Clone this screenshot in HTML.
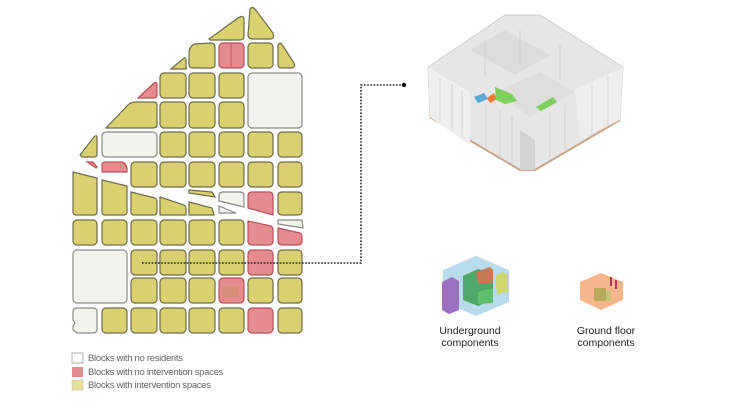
<!DOCTYPE html>
<html><head><meta charset="utf-8"><style>
html,body{margin:0;padding:0;background:#fff;width:730px;height:401px;overflow:hidden}
svg{display:block}
text{font-family:"Liberation Sans",sans-serif}
</style></head><body>
<svg width="730" height="401" viewBox="0 0 730 401" xmlns="http://www.w3.org/2000/svg">
<defs>
<style>
.y{fill:#d9d170;stroke:#6e6c4a;stroke-width:1.2}
.r{fill:#e38b8d;stroke:#b9505a;stroke-width:1.2}
.w{fill:#f3f3ee;stroke:#8a8a86;stroke-width:1.2}
</style>
</defs>
<path class="y" d="M250 9 Q252 6 255 9 L273 33 Q275 39 270 39 L253 39 Q248 39 248 35 Z"/>
<path class="y" d="M209 39 L238 18 Q244 14 244 20 L244 36 Q244 40 240 40 L210 40 Z"/>
<path class="y" d="M189 54 Q189 46 195 44 L210 43 Q215 43 215 47 L215 65 Q215 68 211 68 L193 68 Q189 68 189 64 Z"/>
<rect class="r" x="219" y="43" width="25" height="25" rx="4"/>
<line x1="231" y1="44" x2="231" y2="67" stroke="#b9505a" stroke-width="0.8"/>
<rect class="y" x="248" y="43" width="25" height="25" rx="4"/>
<path class="y" d="M278 45 Q280 41 283 46 L294 63 Q296 68 291 68 L281 68 Q278 68 278 64 Z"/>
<path class="y" d="M171 69 L184 58 Q186 57 186 60 L186 69 Z"/>
<path class="r" d="M138 98 L154 83 Q157 81 157 85 L157 95 Q157 98 154 98 Z"/>
<rect class="y" x="160" y="73" width="26" height="25" rx="4"/>
<rect class="y" x="189" y="73" width="26" height="25" rx="4"/>
<rect class="y" x="219" y="73" width="25" height="25" rx="4"/>
<rect class="w" x="248" y="73" width="54" height="55" rx="4"/>
<path class="y" d="M106 128 L128 105 Q131 102 136 102 L154 102 Q157 102 157 106 L157 124 Q157 128 153 128 Z"/>
<rect class="y" x="160" y="102" width="26" height="26" rx="4"/>
<rect class="y" x="189" y="102" width="26" height="26" rx="4"/>
<rect class="y" x="219" y="102" width="25" height="26" rx="4"/>
<path class="y" d="M80 155 L94 137 Q97 134 97 138 L97 154 Q97 157 94 157 L82 157 Z"/>
<rect class="w" x="102" y="132" width="55" height="25" rx="4"/>
<rect class="y" x="160" y="132" width="26" height="25" rx="4"/>
<rect class="y" x="189" y="132" width="26" height="25" rx="4"/>
<rect class="y" x="219" y="132" width="25" height="25" rx="4"/>
<rect class="y" x="248" y="132" width="25" height="25" rx="4"/>
<rect class="y" x="278" y="132" width="24" height="25" rx="4"/>
<path class="r" d="M87 162 L93 162 L97 167 L96 168 Z"/>
<path class="r" d="M102 165 Q102 162 106 162 L122 162 Q126 163 127 168 L127 172 L102 172 Z"/>
<rect class="y" x="131" y="162" width="26" height="25" rx="4"/>
<rect class="y" x="160" y="162" width="26" height="25" rx="4"/>
<rect class="y" x="189" y="162" width="26" height="25" rx="4"/>
<rect class="y" x="219" y="162" width="25" height="25" rx="4"/>
<rect class="y" x="248" y="162" width="25" height="25" rx="4"/>
<rect class="y" x="278" y="162" width="24" height="25" rx="4"/>
<path class="y" d="M73 172 L97 178 L97 212 Q97 215 94 215 L76 215 Q73 215 73 212 Z"/>
<path class="y" d="M102 180 L127 186 L127 212 Q127 215 124 215 L105 215 Q102 215 102 212 Z"/>
<path class="y" d="M131 192 L155 198 Q157 199 157 202 L157 212 Q157 215 154 215 L134 215 Q131 215 131 212 Z"/>
<path class="y" d="M160 197 L184 205 Q186 206 186 209 L186 215 L160 215 Z"/>
<path class="y" d="M189 190 L212 192 L215 197 L189 193 Z"/>
<path class="y" d="M189 202 L212 208 L214 215 L189 215 Z"/>
<path class="w" d="M219 196 Q219 192 223 192 L240 192 Q244 192 244 196 L244 207 L219 201 Z"/>
<path class="w" d="M219 206 L236 213 L219 213 Z"/>
<path class="r" d="M248 196 Q248 192 252 192 L269 192 Q273 192 273 196 L273 215 L248 208 Z"/>
<path class="y" d="M278 196 Q278 192 282 192 L298 192 Q302 192 302 196 L302 211 Q302 215 298 215 L282 215 Q278 215 278 211 Z"/>
<rect class="y" x="73" y="220" width="24" height="25" rx="4"/>
<rect class="y" x="102" y="220" width="25" height="25" rx="4"/>
<rect class="y" x="131" y="220" width="26" height="25" rx="4"/>
<rect class="y" x="160" y="220" width="26" height="25" rx="4"/>
<rect class="y" x="189" y="220" width="26" height="25" rx="4"/>
<rect class="y" x="219" y="220" width="25" height="25" rx="4"/>
<path class="r" d="M248 221 L271 226 Q273 227 273 230 L273 241 Q273 245 269 245 L252 245 Q248 245 248 241 Z"/>
<path class="w" d="M278 220 L302 220 L303 228 L278 224 Z"/>
<path class="r" d="M278 228 L300 233 Q302 234 302 237 L302 241 Q302 245 298 245 L282 245 Q278 245 278 241 Z"/>
<rect class="w" x="73" y="250" width="54" height="53" rx="4"/>
<rect class="y" x="131" y="250" width="26" height="25" rx="4"/>
<rect class="y" x="160" y="250" width="26" height="25" rx="4"/>
<rect class="y" x="189" y="250" width="26" height="25" rx="4"/>
<rect class="y" x="219" y="250" width="25" height="25" rx="4"/>
<rect class="r" x="248" y="250" width="25" height="25" rx="4"/>
<rect class="y" x="278" y="250" width="24" height="25" rx="4"/>
<rect class="y" x="131" y="278" width="26" height="25" rx="4"/>
<rect class="y" x="160" y="278" width="26" height="25" rx="4"/>
<rect class="y" x="189" y="278" width="26" height="25" rx="4"/>
<rect class="r" x="219" y="278" width="25" height="25" rx="4"/>
<rect fill="#c98f62" opacity="0.5" x="223" y="287" width="16" height="10"/>
<rect class="y" x="248" y="278" width="25" height="25" rx="4"/>
<rect class="y" x="278" y="278" width="24" height="25" rx="4"/>
<path class="w" d="M73 312 Q73 308 77 308 L93 308 Q97 308 97 312 L97 329 Q97 333 93 333 L77 333 L73 330 L73 326 L75 323 L73 320 Z"/>
<rect class="y" x="102" y="308" width="25" height="25" rx="4"/>
<rect class="y" x="131" y="308" width="26" height="25" rx="4"/>
<rect class="y" x="160" y="308" width="26" height="25" rx="4"/>
<rect class="y" x="189" y="308" width="26" height="25" rx="4"/>
<rect class="y" x="219" y="308" width="25" height="25" rx="4"/>
<rect class="r" x="248" y="308" width="25" height="25" rx="4"/>
<rect class="y" x="278" y="308" width="24" height="25" rx="4"/>
<path d="M142 263 L361 263 L361 85 L404 85" fill="none" stroke="#222" stroke-width="1.6" stroke-dasharray="1.6 1.6"/>
<circle cx="404" cy="85" r="2.2" fill="#111"/>
<!-- building -->
<path d="M428 67 L505 15 L540 15 L623 67 L620 120 L535 170 L520 170 L430 117 Z" fill="#e6e6e6" stroke="#d0d0d0"/>
<path d="M430 117 L520 170 L535 170 L620 120" fill="none" stroke="#c9a58a" stroke-width="2"/>
<path d="M470 50 L505 30 L550 55 L515 75 Z" fill="#dcdcdc"/>
<path d="M495 92 L540 72 L575 92 L530 117 Z" fill="#dedede"/>
<path d="M428 67 L470 92 L470 145 L430 117 Z" fill="#efefef"/>
<path d="M520 130 L535 140 L535 170 L520 170 Z" fill="#d3d3d3"/>
<path d="M575 90 L623 67 L620 120 L580 140 Z" fill="#eeeeee"/>
<g stroke="#cfcfcf" stroke-width="0.8">
<line x1="440" y1="78" x2="440" y2="122"/><line x1="452" y1="84" x2="452" y2="130"/><line x1="462" y1="90" x2="462" y2="138"/>
<line x1="486" y1="105" x2="486" y2="150"/><line x1="500" y1="110" x2="500" y2="158"/><line x1="512" y1="116" x2="512" y2="164"/>
<line x1="550" y1="112" x2="550" y2="158"/><line x1="565" y1="105" x2="565" y2="150"/><line x1="592" y1="85" x2="592" y2="134"/><line x1="608" y1="76" x2="608" y2="126"/>
<line x1="520" y1="30" x2="520" y2="65"/><line x1="560" y1="45" x2="560" y2="80"/><line x1="485" y1="40" x2="485" y2="75"/>
</g>
<path d="M474 97 L484 93 L488 99 L478 103 Z" fill="#5aa9d6"/>
<path d="M487 98 L494 93 L497 99 L490 103 Z" fill="#ef7b3b"/>
<path d="M495 87 L512 94 L517 101 L505 104 L496 100 Z" fill="#7fcf5f"/>
<path d="M536 107 L553 97 L557 102 L541 111 Z" fill="#7fcf5f"/>
<!-- icons -->
<path d="M476 256 L509 270 L509 302 L476 316 L443 302 L443 270 Z" fill="#b9dcea"/>
<path d="M442 282 L452 277 L459 281 L459 310 L449 314 L442 310 Z" fill="#9a6fc0"/>
<path d="M463 276 L478 269 L493 274 L493 300 L478 306 L463 300 Z" fill="#4fa86a"/>
<path d="M476 272 L490 267 L493 270 L493 283 L478 283 Z" fill="#c47a50"/>
<path d="M495 276 L503 272 L508 275 L508 292 L497 294 Z" fill="#cfd86a"/>
<path d="M478 292 L493 288 L493 303 L478 304 Z" fill="#5fbf6f"/>
<path d="M601 273 L623 282 L623 300 L601 310 L580 300 L580 282 Z" fill="#f6b58b"/>
<rect x="594" y="288" width="12" height="13" fill="#b8a85a"/>
<rect x="606" y="291" width="5" height="10" fill="#c6c57a"/>
<rect x="610" y="277" width="2" height="9" fill="#b03a5a"/>
<rect x="615" y="280" width="2" height="9" fill="#b03a5a"/>
<text x="470" y="334" font-size="10.5" text-anchor="middle" fill="#222">Underground</text>
<text x="470" y="346" font-size="10.5" text-anchor="middle" fill="#222">components</text>
<text x="606" y="334" font-size="10.5" text-anchor="middle" fill="#222">Ground floor</text>
<text x="606" y="346" font-size="10.5" text-anchor="middle" fill="#222">components</text>
<rect x="72" y="353" width="11" height="10" fill="#fff" stroke="#999" stroke-width="0.8"/>
<rect x="72" y="367" width="11" height="10" fill="#e38b8d"/>
<rect x="72" y="380" width="11" height="10" fill="#e6df9a" stroke="#bbb" stroke-width="0.5"/>
<text x="88" y="361" font-size="9.5" fill="#666" letter-spacing="-0.3">Blocks with no residents</text>
<text x="88" y="375" font-size="9.5" fill="#666" letter-spacing="-0.3">Blocks with no intervention spaces</text>
<text x="88" y="388" font-size="9.5" fill="#666" letter-spacing="-0.3">Blocks with intervention spaces</text>
</svg>
</body></html>
